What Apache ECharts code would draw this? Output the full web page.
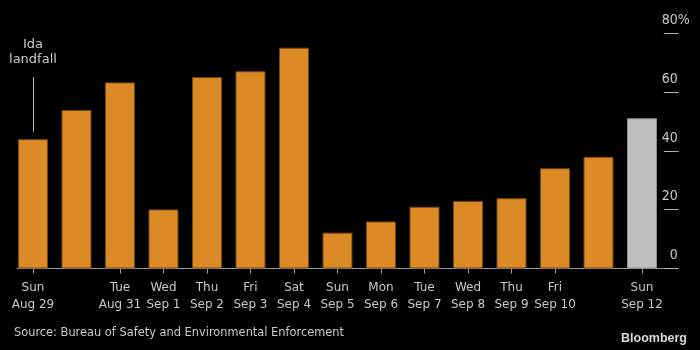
<!DOCTYPE html>
<html>
<head>
<meta charset="utf-8">
<script src="https://cdn.jsdelivr.net/npm/echarts@6/dist/echarts.min.js"></script>
<style>
html,body{margin:0;padding:0;background:#000;}
#chart{width:700px;height:350px;}
</style>
</head>
<body>
<div id="chart"></div>
<script>
// Categories (days), index = position on the axis
const days = ['Sun\nAug 29','Mon\nAug 30','Tue\nAug 31','Wed\nSep 1','Thu\nSep 2','Fri\nSep 3','Sat\nSep 4','Sun\nSep 5','Mon\nSep 6','Tue\nSep 7','Wed\nSep 8','Thu\nSep 9','Fri\nSep 10','Sat\nSep 11','Sun\nSep 12'];
// Share of Gulf of Mexico oil production shut in (%)
const shutIn = [44.0, 53.9, 63.3, 20.1, 65.1, 67.1, 75.1, 12.2, 16.0, 21.0, 23.0, 23.9, 34.1, 38.0, 51.1];
// Which days are labelled on the axis
const labelledDays = [0, 2, 3, 4, 5, 6, 7, 8, 9, 10, 11, 12, 14];
// Latest (estimate) bar index
const latestIndex = 14;
// Y ticks
const yTicks = [0, 20, 40, 60, 80];
// Annotation
const annotationText = 'Ida\nlandfall';
const annotationRange = [46.5, 65.1];

const ORANGE = '#DB8A25';
const GREY = '#BEBEBE';
const TEXT = '#C8C8C8';
const YFONT = 'DejaVu Sans Condensed, DejaVu Sans';

const barData = shutIn.map((v, i) => ({
  value: [i, v],
  itemStyle: i === latestIndex
    ? { color: GREY, borderColor: '#8e8e8e', borderWidth: 1 }
    : { color: ORANGE, borderColor: '#7a4810', borderWidth: 1 }
}));

const chart = echarts.init(document.getElementById('chart'), null, { renderer: 'canvas' });
chart.setOption({
  backgroundColor: '#000',
  animation: false,
  textStyle: { fontFamily: 'DejaVu Sans' },
  title: [
    {
      text: 'Source: Bureau of Safety and Environmental Enforcement',
      left: 9, top: 323,
      textStyle: { color: TEXT, fontSize: 11.4, fontWeight: 'normal', fontFamily: 'DejaVu Sans' }
    },
    {
      text: 'Bloomberg',
      right: 8, top: 327,
      textStyle: { color: '#D9D9D9', fontSize: 12.5, fontWeight: 'bold', fontFamily: 'Liberation Sans' }
    }
  ],
  grid: { left: 17.3, right: 36.25, top: 33.3, bottom: 81.5, containLabel: false },
  xAxis: {
    type: 'value',
    min: -0.36,
    max: 14.5,
    splitLine: { show: false },
    axisLine: { show: true, onZero: false, lineStyle: { color: '#9a9a9a', width: 1 } },
    axisTick: {
      show: true, length: 5, customValues: labelledDays,
      lineStyle: { color: '#9a9a9a', width: 1 }
    },
    axisLabel: {
      show: true, customValues: labelledDays,
      formatter: v => days[Math.round(v)],
      color: TEXT, fontSize: 12, lineHeight: 17, margin: 11,
      fontFamily: 'DejaVu Sans', align: 'center'
    }
  },
  yAxis: {
    type: 'value',
    position: 'right',
    min: 0, max: 80, interval: 20,
    splitLine: { show: false },
    axisLine: { show: false, onZero: false },
    axisTick: { show: true, length: 15, lineStyle: { color: '#b0b0b0', width: 1 } },
    axisLabel: {
      show: true,
      inside: false,
      margin: 26,
      align: 'right',
      verticalAlign: 'bottom',
      padding: [0, 0, 6, 0],
      color: TEXT,
      fontSize: 14,
      fontFamily: YFONT,
      formatter: v => v === 80 ? v + '{p|%}' : v + '{h|%}',
      rich: {
        p: { color: TEXT, fontSize: 14, fontFamily: YFONT },
        h: { color: 'transparent', fontSize: 14, fontFamily: YFONT }
      }
    }
  },
  series: [{
    type: 'bar',
    barWidth: 30,
    data: barData,
    markLine: {
      silent: true,
      symbol: ['none', 'none'],
      lineStyle: { color: '#b8b8b8', width: 1, type: 'solid' },
      label: {
        show: true, position: 'end', distance: 10,
        formatter: annotationText,
        color: TEXT, fontSize: 13, lineHeight: 15, fontFamily: 'DejaVu Sans'
      },
      data: [[
        { coord: [0, annotationRange[0]] },
        { coord: [0, annotationRange[1]] }
      ]]
    }
  }]
});
</script>
</body>
</html>
